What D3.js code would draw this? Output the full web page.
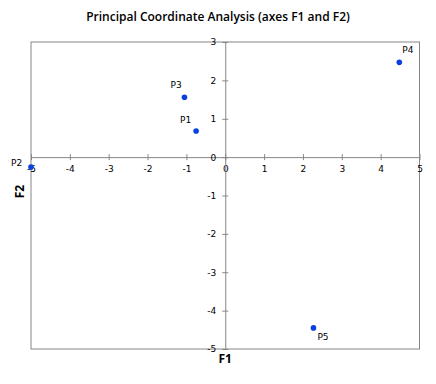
<!DOCTYPE html>
<html lang="en">
<head>
<meta charset="utf-8">
<title>Principal Coordinate Analysis</title>
<script src="https://d3js.org/d3.v7.min.js"></script>
<style>
  body { margin: 0; background: #fff; }
  text { fill: #000; }
</style>
</head>
<body>
<div class="chart"></div>
<script>
// observations (F1, F2 coordinates)
const labels = ['P1', 'P2', 'P3', 'P4', 'P5'];
const f1 = [-0.75, -5.0, -1.05, 4.48, 2.27];
const f2 = [0.68, -0.26, 1.56, 2.47, -4.45];
const xTicks = [-5, -4, -3, -2, -1, 0, 1, 2, 3, 4, 5];
const yTicks = [-5, -4, -3, -2, -1, 0, 1, 2, 3];

const width = 436, height = 384;
const margin = {top: 42, right: 16, bottom: 35, left: 31};

const svg = d3.select('.chart').append('svg')
  .attr('width', width)
  .attr('height', height);

const x = d3.scaleLinear().domain([-5, 5]).range([margin.left, width - margin.right - 0.5]);
const y = d3.scaleLinear().domain([-5, 3]).range([height - margin.bottom, margin.top]);

const tickFont = 'Tahoma, "DejaVu Sans", sans-serif';
const fmt = d => String(d);  // plain hyphen minus like the original

// frame
svg.append('rect')
  .attr('x', x(-5)).attr('y', y(3))
  .attr('width', x(5) - x(-5)).attr('height', y(-5) - y(3))
  .attr('fill', 'none').attr('stroke', '#868686').attr('stroke-width', 1);

// x axis through y=0
const xAxis = svg.append('g')
  .attr('transform', `translate(0,${y(0)})`)
  .call(d3.axisBottom(x).tickValues(xTicks).tickFormat(fmt).tickSize(0).tickPadding(8));
xAxis.select('.domain').attr('stroke', '#868686').attr('stroke-width', 1);
xAxis.selectAll('.tick line').attr('y1', -3).attr('y2', 3).attr('stroke', '#868686');
xAxis.selectAll('.tick text').attr('font-family', tickFont).attr('font-size', 9).attr('fill', '#000');

// y axis through x=0
const yAxis = svg.append('g')
  .attr('transform', `translate(${x(0)},0)`)
  .call(d3.axisLeft(y).tickValues(yTicks).tickFormat(fmt).tickSize(0).tickPadding(9));
yAxis.select('.domain').attr('stroke', '#868686').attr('stroke-width', 1);
yAxis.selectAll('.tick line').attr('x1', -3).attr('x2', 3).attr('stroke', '#868686');
yAxis.selectAll('.tick text').attr('font-family', tickFont).attr('font-size', 9).attr('fill', '#000');

// points
const data = labels.map((d, i) => ({label: d, f1: f1[i], f2: f2[i]}));

svg.selectAll('circle.pt')
  .data(data)
  .enter()
  .append('circle')
  .attr('class', 'pt')
  .attr('cx', d => x(d.f1))
  .attr('cy', d => y(d.f2))
  .attr('r', 2.8)
  .attr('fill', '#0a3fe0');

// label offsets (dx, dy) relative to each point
const labelOffset = {
  P1: [-16, -8],
  P2: [-20, -1],
  P3: [-14, -9],
  P4: [3, -9],
  P5: [4, 12]
};

svg.selectAll('text.lbl')
  .data(data)
  .enter()
  .append('text')
  .attr('class', 'lbl')
  .attr('x', d => x(d.f1) + labelOffset[d.label][0])
  .attr('y', d => y(d.f2) + labelOffset[d.label][1])
  .attr('font-family', tickFont)
  .attr('font-size', 9)
  .text(d => d.label);

// title
svg.append('text')
  .attr('x', width / 2)
  .attr('y', 21)
  .attr('text-anchor', 'middle')
  .attr('font-family', '"Open Sans", sans-serif')
  .attr('font-weight', 600)
  .attr('font-size', 12)
  .text('Principal Coordinate Analysis (axes F1 and F2)');

// axis titles
svg.append('text')
  .attr('x', x(0))
  .attr('y', 363)
  .attr('text-anchor', 'middle')
  .attr('font-family', '"Open Sans", sans-serif')
  .attr('font-weight', 700)
  .attr('font-size', 12)
  .text('F1');

svg.append('text')
  .attr('transform', `translate(24,${(y(3) + y(-5)) / 2 - 4}) rotate(-90)`)
  .attr('text-anchor', 'middle')
  .attr('font-family', '"Open Sans", sans-serif')
  .attr('font-weight', 700)
  .attr('font-size', 12)
  .text('F2');
</script>
</body>
</html>
